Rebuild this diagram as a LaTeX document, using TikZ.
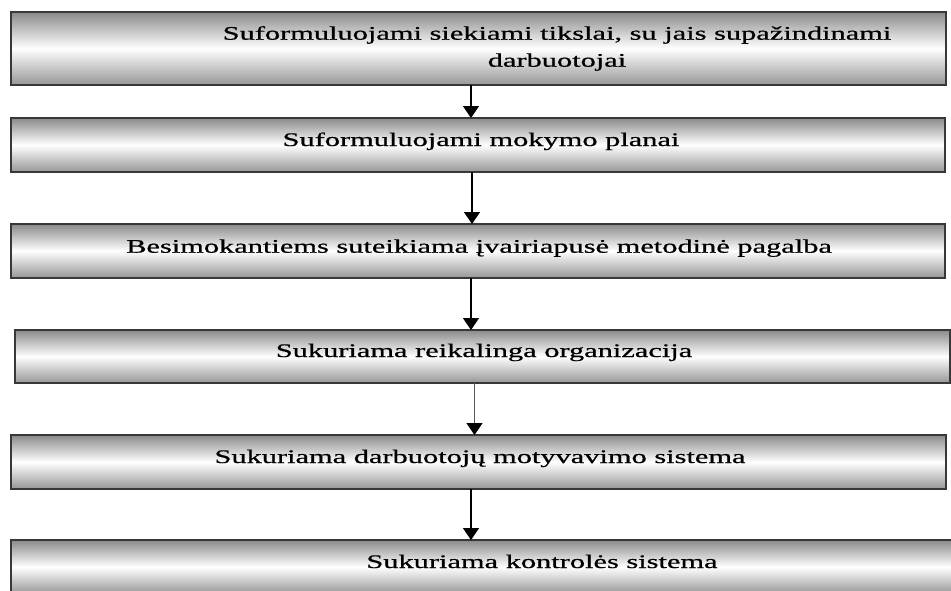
\documentclass[tikz,border=0pt]{standalone}
\usepackage{fontspec}
\setmainfont{Liberation Serif}
\newfontfamily\heavyserif{Liberation Serif}[FakeBold=0.6]
\usetikzlibrary{arrows.meta}
\definecolor{shtop}{HTML}{8A8A8A}
\definecolor{shbot}{HTML}{969696}
\definecolor{boxline}{HTML}{383838}
\newcommand{\sx}[1]{\scalebox{1.583}[1]{#1}}
\begin{document}
\begin{tikzpicture}[x=1pt,y=-1pt,
  box/.style={rectangle, draw=boxline, line width=2pt, top color=shtop, bottom color=shbot, middle color=white, inner sep=0pt, outer sep=0pt},
  lbl/.style={font=\heavyserif\fontsize{19.2}{27}\selectfont, inner sep=0pt, anchor=base, align=center, text=black},
  arr/.style={-{Triangle[width=16pt,length=12pt,color=black]}, line width=1.4pt, draw=black}]
\useasboundingbox (0,0) rectangle (951,590);
\fill[white] (0,0) rectangle (951,590);
% boxes
\node[box, minimum width=935pt, minimum height=73pt] (b1) at (478.5,48.5) {};
\node[box, minimum width=934pt, minimum height=54pt] (b2) at (478,145) {};
\node[box, minimum width=934pt, minimum height=54pt] (b3) at (478,251) {};
\node[box, minimum width=935pt, minimum height=53pt] (b4) at (482.5,356.5) {};
\node[box, minimum width=935pt, minimum height=54pt] (b5) at (478.5,462) {};
\node[box, minimum width=949pt, minimum height=54pt] (b6) at (485.5,567) {};
% texts
\node[lbl] (t1) at (557,66.7) {\sx{Suformuluojami siekiami tikslai, su jais supažindinami}\\\sx{darbuotojai}};
\node[lbl] (t2) at (481,146) {\sx{Suformuluojami mokymo planai}};
\node[lbl] (t3) at (479,252.7) {\sx{Besimokantiems suteikiama įvairiapusė metodinė pagalba}};
\node[lbl] (t4) at (484,357) {\sx{Sukuriama reikalinga organizacija}};
\node[lbl] (t5) at (480,463) {\sx{Sukuriama darbuotojų motyvavimo sistema}};
\node[lbl] (t6) at (542,568) {\sx{Sukuriama kontrolės sistema}};
% arrow columns
\coordinate (x1) at (471,0);
\coordinate (x2) at (472,0);
\coordinate (x3) at (471,0);
\coordinate (x4) at (474.5,0);
\coordinate (x5) at (471,0);
\draw[arr] (b1.south -| x1) -- (b2.north -| x1);
\draw[arr] (b2.south -| x2) -- (b3.north -| x2);
\draw[arr] (b3.south -| x3) -- (b4.north -| x3);
\draw[arr, draw=black!65] (b4.south -| x4) -- (b5.north -| x4);
\draw[arr] (b5.south -| x5) -- (b6.north -| x5);
\end{tikzpicture}
\end{document}
